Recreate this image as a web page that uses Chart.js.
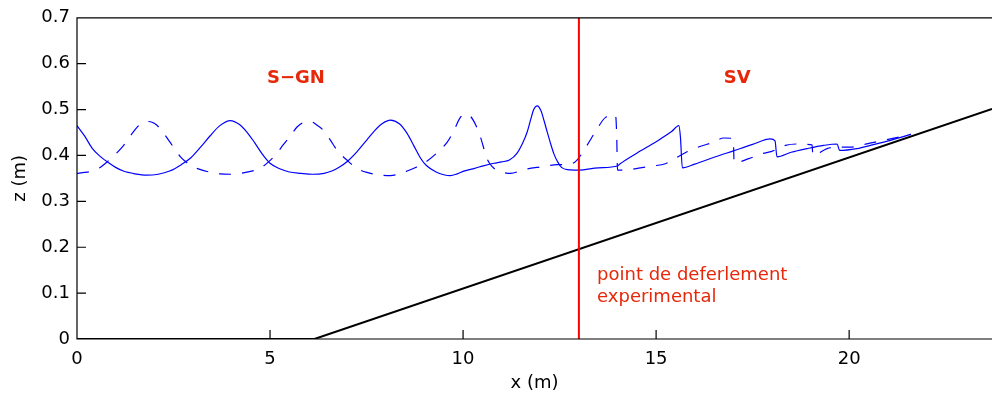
<!DOCTYPE html>
<html>
<head>
<meta charset="utf-8">
<script src="https://cdn.jsdelivr.net/npm/chart.js@4.4.0/dist/chart.umd.min.js"></script>
<style>
  html, body { margin: 0; padding: 0; background: #fff; }
</style>
</head>
<body>
<canvas id="c" width="992" height="399"></canvas>
<script>
// free surface, solid run
const solidX = [0.00, 0.20, 0.40, 0.60, 0.80, 1.00, 1.20, 1.50, 1.80, 2.10, 2.40, 2.70, 2.95, 3.20, 3.45, 3.70, 3.97, 4.20, 4.40, 4.60,
  4.80, 5.00, 5.25, 5.50, 5.80, 6.10, 6.40, 6.60, 6.80, 7.00, 7.25, 7.50, 7.70, 7.90, 8.12, 8.35, 8.55, 8.72, 8.90, 9.05,
  9.30, 9.50, 9.67, 9.85, 10.02, 10.30, 10.55, 10.80, 11.00, 11.20, 11.40, 11.55, 11.66, 11.75, 11.83, 11.92, 12.02, 12.10, 12.18, 12.27,
  12.35, 12.45, 12.55, 12.70, 13.00, 13.50, 14.00, 14.07, 14.50, 15.00, 15.40, 15.59, 15.63, 15.68, 16.00, 16.50, 17.00, 17.50, 17.96, 18.08,
  18.13, 18.50, 18.91, 19.34, 19.69, 19.75, 20.20, 20.60, 21.07, 21.60];
const solidY = [0.465, 0.442, 0.415, 0.398, 0.385, 0.374, 0.366, 0.360, 0.357, 0.359, 0.366, 0.380, 0.395, 0.418, 0.443, 0.465, 0.476, 0.468, 0.451, 0.428,
  0.403, 0.383, 0.371, 0.364, 0.361, 0.359, 0.361, 0.366, 0.375, 0.387, 0.408, 0.433, 0.453, 0.469, 0.477, 0.469, 0.448, 0.422, 0.394, 0.378,
  0.364, 0.358, 0.356, 0.360, 0.366, 0.372, 0.378, 0.383, 0.386, 0.390, 0.405, 0.428, 0.451, 0.478, 0.500, 0.508, 0.497, 0.475, 0.451, 0.425,
  0.404, 0.386, 0.374, 0.369, 0.368, 0.373, 0.377, 0.382, 0.405, 0.430, 0.452, 0.465, 0.440, 0.373, 0.381, 0.396, 0.410, 0.424, 0.436, 0.432,
  0.397, 0.407, 0.415, 0.422, 0.425, 0.411, 0.415, 0.423, 0.433, 0.446];

// free surface, dashed run
const dashX = [0.00, 0.20, 0.39, 0.60, 0.78, 1.00, 1.21, 1.42, 1.64, 1.86, 2.00, 2.16, 2.40, 2.68, 2.85, 3.02, 3.20, 3.37, 3.70, 3.97,
  4.30, 4.62, 4.80, 4.96, 5.15, 5.35, 5.53, 5.70, 5.87, 6.04, 6.20, 6.39, 6.55, 6.74, 6.99, 7.25, 7.51, 7.80, 8.12, 8.35,
  8.55, 8.80, 9.07, 9.30, 9.59, 9.75, 9.93, 10.10, 10.27, 10.45, 10.62, 10.75, 10.88, 11.23, 11.57, 12.00, 12.44, 12.78, 12.95, 13.21,
  13.45, 13.69, 13.95, 13.98, 14.00, 14.30, 14.59, 14.90, 15.24, 15.50, 15.80, 16.15, 16.49, 16.75, 17.00, 17.02, 17.40, 17.75, 18.00, 18.35,
  18.65, 19.04, 19.06, 19.43, 19.69, 20.03, 20.30, 20.60, 20.90, 21.60];
const dashY = [0.361, 0.363, 0.366, 0.374, 0.386, 0.403, 0.422, 0.447, 0.468, 0.474, 0.470, 0.458, 0.430, 0.397, 0.384, 0.375, 0.369, 0.365, 0.360, 0.359,
  0.362, 0.368, 0.375, 0.386, 0.402, 0.424, 0.443, 0.462, 0.472, 0.474, 0.467, 0.454, 0.435, 0.411, 0.390, 0.372, 0.363, 0.358, 0.356, 0.360,
  0.366, 0.375, 0.388, 0.404, 0.429, 0.452, 0.483, 0.490, 0.476, 0.440, 0.393, 0.376, 0.368, 0.361, 0.369, 0.375, 0.380, 0.381, 0.390, 0.422,
  0.455, 0.483, 0.488, 0.440, 0.368, 0.369, 0.373, 0.377, 0.382, 0.394, 0.408, 0.420, 0.429, 0.438, 0.437, 0.384, 0.393, 0.404, 0.409, 0.422,
  0.425, 0.423, 0.400, 0.415, 0.418, 0.418, 0.422, 0.428, 0.433, 0.446];

// bottom profile: flat then 1/35 slope
const bedX = [0, 6.15, 23.7];
const bedY = [0, 0, 0.5014];

const breakX = 13;
const xMax = 23.7;
const xTicks = [0, 5, 10, 15, 20];
const yTicks = [0, 0.1, 0.2, 0.3, 0.4, 0.5, 0.6, 0.7];
const yTickLabels = ['0', '0.1', '0.2', '0.3', '0.4', '0.5', '0.6', '0.7'];

const FONT = 'DejaVu Sans';
const ANNOT = 'rgb(230,40,10)';

const pts = (xs, ys) => xs.map((x, i) => ({ x: x, y: ys[i] }));

// box with inward ticks + text labels inside the axes
const frame = {
  id: 'frame',
  afterDatasetsDraw(chart) {
    const { ctx, chartArea: a, scales: { x, y } } = chart;
    ctx.save();
    ctx.strokeStyle = '#000';
    ctx.lineWidth = 1.2;
    ctx.beginPath();
    ctx.moveTo(a.right, a.top);
    ctx.lineTo(a.left, a.top);
    ctx.lineTo(a.left, a.bottom);
    ctx.lineTo(a.right, a.bottom);
    xTicks.forEach(v => {
      const px = x.getPixelForValue(v);
      ctx.moveTo(px, a.bottom); ctx.lineTo(px, a.bottom - 9);
    });
    yTicks.forEach(v => {
      const py = y.getPixelForValue(v);
      ctx.moveTo(a.left, py); ctx.lineTo(a.left + 9, py);
    });
    ctx.stroke();

    ctx.fillStyle = ANNOT;
    ctx.textBaseline = 'alphabetic';
    ctx.font = 'bold 18px "' + FONT + '"';
    ctx.textAlign = 'center';
    ctx.fillText('S\u2212GN', x.getPixelForValue(5.67), y.getPixelForValue(0.558));
    ctx.fillText('SV', x.getPixelForValue(17.1), y.getPixelForValue(0.558));
    ctx.font = '18px "' + FONT + '"';
    ctx.textAlign = 'left';
    ctx.fillText('point de deferlement', x.getPixelForValue(13.47), y.getPixelForValue(0.129));
    ctx.fillText('experimental', x.getPixelForValue(13.47), y.getPixelForValue(0.080));
    ctx.restore();
  }
};

new Chart(document.getElementById('c'), {
  type: 'scatter',
  data: {
    datasets: [
      {
        data: [{ x: breakX, y: 0 }, { x: breakX, y: 0.7 }],
        showLine: true, borderColor: '#ff0000', borderWidth: 2, pointRadius: 0, order: 0
      },
      {
        data: pts(solidX, solidY),
        showLine: true, borderColor: '#0000ff', borderWidth: 1.2, pointRadius: 0, order: 1,
        cubicInterpolationMode: 'monotone'
      },
      {
        data: pts(dashX, dashY),
        showLine: true, borderColor: '#0000ff', borderWidth: 1.2, borderDash: [12, 11], pointRadius: 0, order: 1,
        cubicInterpolationMode: 'monotone'
      },
      {
        data: pts(bedX, bedY),
        showLine: true, borderColor: '#000', borderWidth: 2, pointRadius: 0, order: 2
      }
    ]
  },
  options: {
    responsive: false,
    animation: false,
    layout: { padding: { top: 14, right: 0, left: 0, bottom: 0 } },
    plugins: { legend: { display: false }, tooltip: { enabled: false } },
    scales: {
      x: {
        type: 'linear', min: 0, max: xMax,
        afterBuildTicks: s => { s.ticks = xTicks.map(v => ({ value: v })); },
        afterFit: s => { s.height = 60; },
        grid: { display: false, drawTicks: false },
        border: { display: false },
        ticks: { color: '#000', padding: 10, maxRotation: 0, font: { family: FONT, size: 18 } },
        title: { display: true, text: 'x (m)', color: '#000', padding: { top: 0, bottom: 5 }, font: { family: FONT, size: 18 } }
      },
      y: {
        type: 'linear', min: 0, max: 0.7,
        afterBuildTicks: s => { s.ticks = yTicks.map(v => ({ value: v })); },
        afterFit: s => { s.width = 77; },
        grid: { display: false, drawTicks: false },
        border: { display: false },
        ticks: { color: '#000', padding: 7, font: { family: FONT, size: 18 },
          callback: (v, i) => yTickLabels[i] },
        title: { display: true, text: 'z (m)', color: '#000', padding: { top: 10, bottom: 0 }, font: { family: FONT, size: 18 } }
      }
    }
  },
  plugins: [frame]
});
</script>
</body>
</html>
